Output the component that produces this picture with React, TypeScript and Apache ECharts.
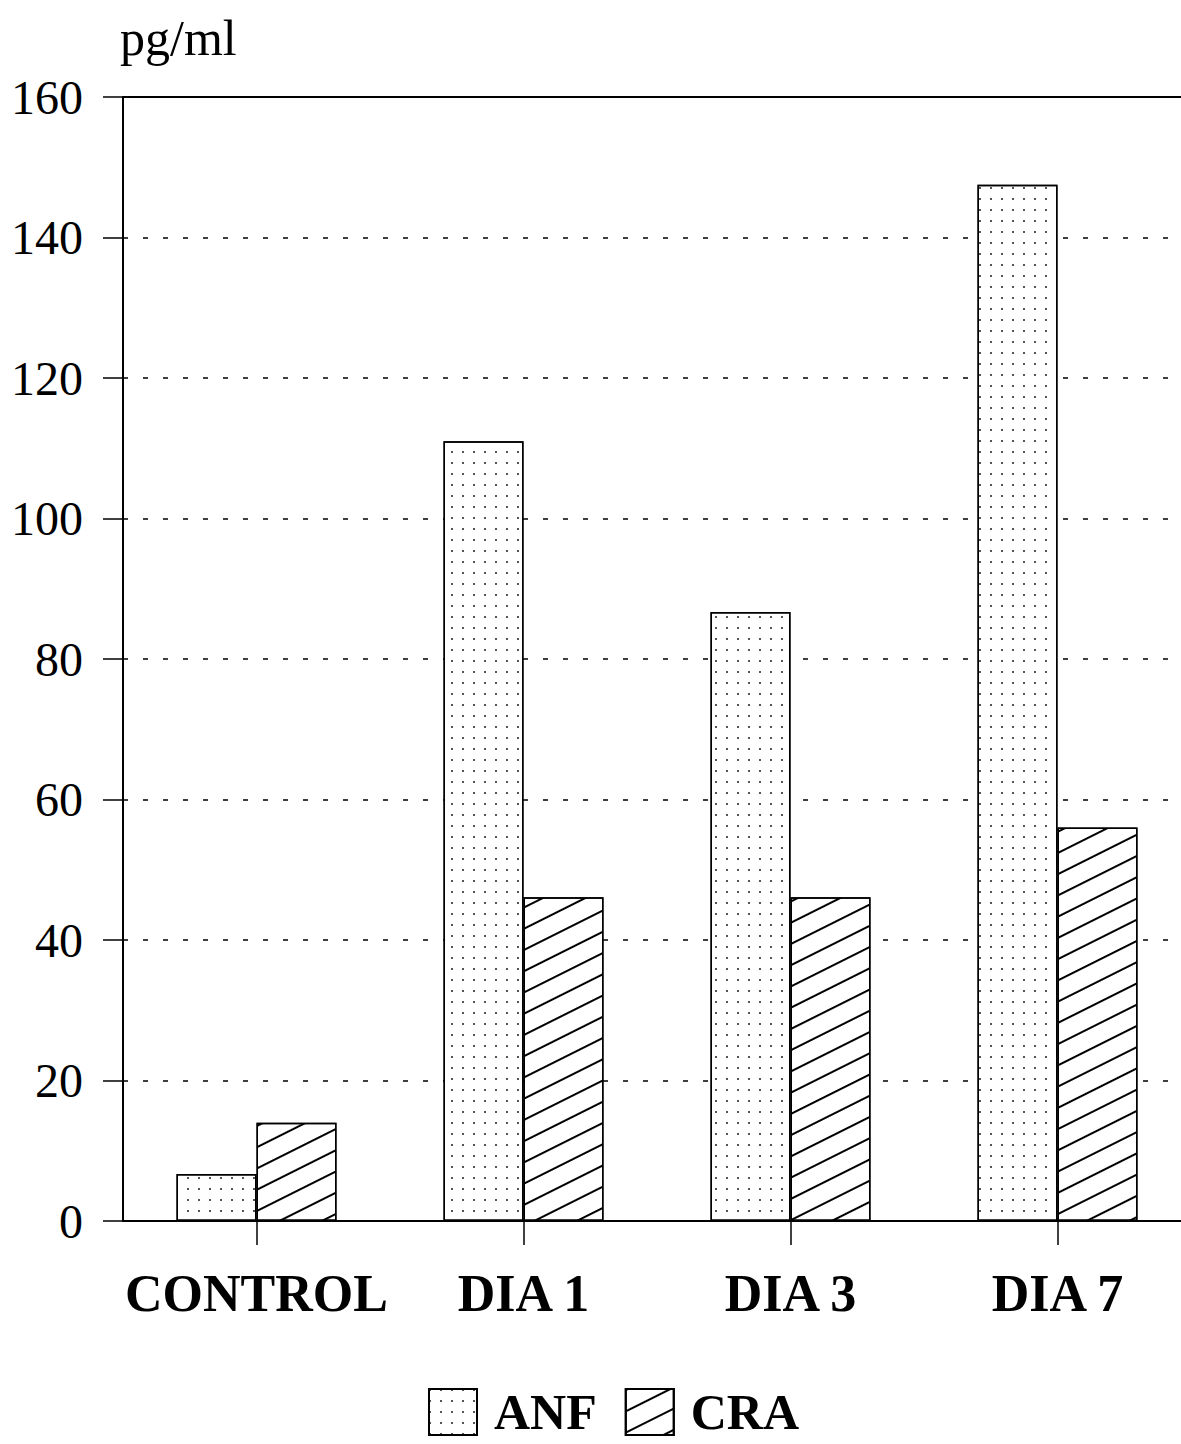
import React, { useEffect, useRef } from "react";
import * as echarts from "echarts";

const categories = ["CONTROL", "DIA 1", "DIA 3", "DIA 7"];
const anfValues = [6.7, 111, 86.7, 147.5];
const craValues = [14, 46.1, 46.1, 56];
const seriesNames = ["ANF", "CRA"];
const yMin = 0;
const yMax = 160;
const yInterval = 20;
const yUnit = "pg/ml";

const FONT = "'Liberation Serif', 'Times New Roman', serif";

export default function App() {
  const ref = useRef<HTMLDivElement>(null);
  useEffect(() => {
    if (!ref.current) return;
    const chart = echarts.init(ref.current, undefined, { renderer: "svg" });
    const dotDecal = {
      symbol: "rect",
      symbolSize: 1,
      color: "#555",
      dashArrayX: [1.5, 8.5],
      dashArrayY: [1.5, 8.5],
      rotation: 0,
    };
    const stripeDecal = {
      symbol: "rect",
      symbolSize: 1,
      color: "#000",
      dashArrayX: [1, 0],
      dashArrayY: [1.6, 16.3],
      rotation: -Math.atan(0.5),
    };
    chart.setOption({
      animation: false,
      backgroundColor: "#fff",
      textStyle: { fontFamily: FONT, color: "#000" },
      grid: { left: 123, top: 97, bottom: 223, right: 0, containLabel: false },
      legend: {
        data: seriesNames,
        left: 423,
        top: 1382,
        itemWidth: 48,
        itemHeight: 46,
        itemGap: 28,
        icon: "rect",
        textStyle: {
          fontFamily: FONT,
          fontSize: 50,
          lineHeight: 50,
          fontWeight: "bold",
          color: "#000",
          padding: [0, 0, 0, 12],
        },
      },
      xAxis: [
        {
          type: "category",
          data: categories,
          position: "bottom",
          axisLine: { show: true, lineStyle: { color: "#000", width: 2 } },
          axisTick: {
            show: true,
            alignWithLabel: true,
            length: 24,
            lineStyle: { color: "#000", width: 1.5 },
          },
          axisLabel: {
            interval: 0,
            margin: 46,
            fontFamily: FONT,
            fontSize: 52,
            fontWeight: "bold",
            color: "#000",
          },
          splitLine: { show: false },
        },
        {
          type: "category",
          data: categories,
          position: "top",
          axisLine: { show: true, lineStyle: { color: "#000", width: 2 } },
          axisTick: { show: false },
          axisLabel: { show: false },
          splitLine: { show: false },
        },
      ],
      yAxis: {
        type: "value",
        min: yMin,
        max: yMax,
        interval: yInterval,
        name: yUnit,
        nameLocation: "end",
        nameGap: 34,
        nameTextStyle: {
          fontFamily: FONT,
          fontSize: 50,
          color: "#000",
          align: "left",
          padding: [0, 0, 0, -3],
        },
        axisLine: { show: true, lineStyle: { color: "#000", width: 2 } },
        axisTick: { show: true, inside: false, length: 20, lineStyle: { color: "#000", width: 1.5 } },
        axisLabel: { margin: 40, fontFamily: FONT, fontSize: 48, color: "#000" },
        splitLine: {
          show: true,
          lineStyle: { color: "#000", width: 1.5, type: [5, 15] },
        },
      },
      series: [
        {
          name: seriesNames[0],
          type: "bar",
          data: anfValues,
          barWidth: 80,
          barGap: "0%",
          itemStyle: {
            color: "#fff",
            borderColor: "#000",
            borderWidth: 1.5,
            decal: dotDecal,
          },
        },
        {
          name: seriesNames[1],
          type: "bar",
          data: craValues,
          barWidth: 80,
          barGap: "0%",
          itemStyle: {
            color: "#fff",
            borderColor: "#000",
            borderWidth: 1.5,
            decal: stripeDecal,
          },
        },
      ],
    });
    return () => chart.dispose();
  }, []);
  return (
    <div
      style={{
        position: "absolute",
        left: 0,
        top: 0,
        width: 1181,
        height: 1444,
        overflow: "hidden",
        background: "#fff",
      }}
    >
      <div ref={ref} style={{ width: 1191, height: 1444 }} />
    </div>
  );
}
